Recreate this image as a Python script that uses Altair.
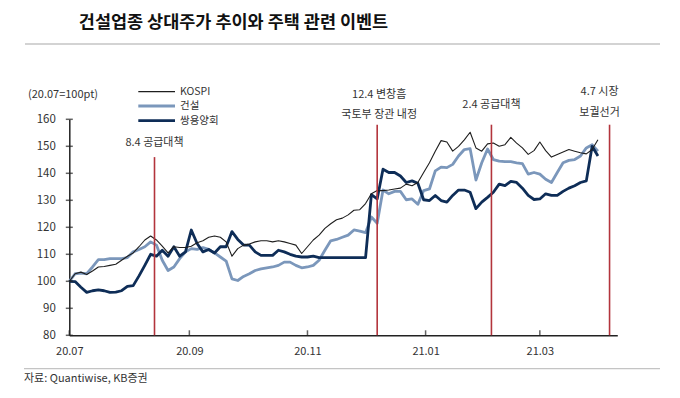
import altair as alt
import pandas as pd

# ---------------- data ----------------
dates = pd.date_range("2020-07-01", periods=92, freq="3D")
series_names = ["KOSPI", "건설", "쌍용양회"]

kospi = [100, 102.8, 103.4, 102.5, 103.8, 105.3, 105.5, 105.9, 106.3, 107.8,
         109.3, 110.5, 112.8, 115.3, 116.8, 115.3, 113, 110.5, 112.8, 112.5,
         112.5, 113, 114.3, 115, 116.3, 116.8, 116.3, 114.6, 109.3, 112.1,
         113.4, 113.8, 114.6, 115, 115, 114.6, 115, 114.6, 114, 113.4,
         110.3, 112.8, 115.3, 117.1, 119.6, 121.3, 122.8, 123.4, 124.6, 126.3,
         126.5, 128.8, 132.4, 133.6, 133.6, 133.8, 134.2, 134.5, 136, 135.4,
         136.6, 140.3, 143.9, 148.2, 152.1, 151.6, 148.2, 150, 152.4, 155.2,
         149.4, 148.2, 150.9, 151.2, 150, 150.6, 153.3, 151.2, 149.4, 147,
         148.4, 151.6, 148.4, 146, 147, 147.9, 148.8, 148.2, 147.6, 147.2,
         148.8, 152.4]

construction = [100, 102.8, 103, 102.8, 105.3, 108, 108, 108.4, 108.4, 108.4,
                108.8, 110.9, 111.8, 112.8, 114.6, 113.4, 107.8, 104, 105.3, 108.4,
                110.9, 112.1, 111.8, 112.5, 111.8, 110.5, 109, 107.5, 100.9, 100.3,
                101.8, 102.8, 104, 104.6, 105, 105.3, 105.9, 107.1, 107.1, 105.9,
                105, 105.3, 105.9, 107.8, 111.5, 115, 115.5, 116.3, 117.1, 119,
                118.6, 118, 123.8, 121.5, 133.8, 132.4, 133.3, 133.3, 130.2, 130.5,
                128.5, 133.6, 134.2, 140.9, 142.3, 142.1, 143.3, 146.4, 148.8, 149.1,
                137.5, 143.9, 149, 145.1, 144.5, 144.3, 144.3, 143.9, 143.6, 139.7,
                140.3, 139.7, 137.8, 136.6, 140.3, 143.9, 144.8, 145.1, 146.4, 149.4,
                150.6, 148.2]

ssangyong = [100, 99.9, 97.8, 95.9, 96.5, 96.8, 96.5, 95.9, 96, 96.5,
             98.1, 98.4, 102, 105.9, 110, 109.3, 111.5, 109.3, 112.8, 109.3,
             110.9, 119, 114, 110.9, 111.8, 110.5, 112.8, 112.8, 118.4, 115.5,
             113.4, 113.4, 110.9, 109.6, 109.6, 109.6, 111.5, 110.9, 110, 109.3,
             109, 109, 109.3, 108.8, 108.8, 108.8, 108.8, 108.8, 108.8, 108.8,
             108.8, 108.8, 132.1, 130.5, 141.5, 140.3, 140.3, 139, 136.6, 137.2,
             136.3, 130.2, 129.9, 131.8, 129.9, 129.3, 131.8, 133.8, 133.8, 133,
             126.9, 129.3, 131.1, 133, 136, 135.4, 137, 136.6, 134.5, 131.8,
             130.3, 130.5, 132.4, 131.8, 131.8, 133.3, 134.5, 135.4, 136.6, 137.2,
             150, 146.4]

y_ticks = [80, 90, 100, 110, 120, 130, 140, 150, 160]
x_tick_dates = ["2020-07-01", "2020-09-01", "2020-11-01", "2021-01-01", "2021-03-01"]

event_dates = ["2020-08-14", "2020-12-07", "2021-02-04", "2021-04-06"]
event_tops = [146, 158, 158, 158]
event_labels = [["8.4 공급대책"], ["12.4 변창흠", "국토부 장관 내정"],
                ["2.4 공급대책"], ["4.7 시장", "보궐선거"]]

title_text = "건설업종 상대주가 추이와 주택 관련 이벤트"
unit_text = "(20.07=100pt)"
source_text = "자료: Quantiwise, KB증권"

# ---------------- styles ----------------
FONT = "Noto Sans CJK KR"
W, H = 548, 216
colors = {"KOSPI": "#1e1e1e", "건설": "#7b97bb", "쌍용양회": "#0e2d57"}
widths = {"KOSPI": 1.1, "건설": 2.8, "쌍용양회": 2.8}
TEXT = "#333333"
RED = "#b3343c"

df = pd.DataFrame({
    "date": list(dates) * 3,
    "series": [s for s in series_names for _ in range(len(dates))],
    "value": kospi + construction + ssangyong,
})
ev = pd.DataFrame({"date": pd.to_datetime(event_dates), "value": event_tops})
yt = pd.DataFrame({"value": y_ticks})
xt = pd.DataFrame({"date": pd.to_datetime(x_tick_dates)})
dummy = pd.DataFrame({"k": [0]})

x_scale = alt.Scale(domain=[alt.DateTime(year=2020, month=7, date=1),
                            alt.DateTime(year=2021, month=4, date=10)])
x_axis = alt.Axis(values=[alt.DateTime(year=int(d[:4]), month=int(d[5:7]), date=1) for d in x_tick_dates],
                  format="%y.%m", ticks=False, grid=False, title=None,
                  labelFlush=False, labelPadding=10, labelFontSize=11,
                  labelColor=TEXT, domainColor="#222222", domainWidth=1.5)
y_axis = alt.Axis(values=y_ticks, ticks=False, grid=False, title=None,
                  labelPadding=14, labelFontSize=11.5, labelColor=TEXT,
                  domainColor="#222222", domainWidth=1.5)
x_enc = alt.X("date:T", scale=x_scale, axis=x_axis)
y_enc = alt.Y("value:Q", scale=alt.Scale(domain=[80, 160]), axis=y_axis)

layers = []
for s in ["건설", "쌍용양회", "KOSPI"]:
    layers.append(
        alt.Chart(df).transform_filter(alt.datum.series == s)
        .mark_line(color=colors[s], strokeWidth=widths[s], strokeJoin="round")
        .encode(x=x_enc, y=y_enc)
    )

# event lines
layers.append(alt.Chart(ev).mark_rule(color=RED, strokeWidth=1.6)
              .encode(x=x_enc, y=y_enc, y2=alt.datum(80)))

# axis tick marks (y crossing, x inward)
layers.append(alt.Chart(yt).mark_tick(orient="horizontal", size=7, thickness=1.5, color="#222222")
              .encode(y=y_enc, x=alt.value(0)))
layers.append(alt.Chart(xt).mark_tick(orient="vertical", size=5, thickness=1.5, color="#222222")
              .encode(x=x_enc, y=alt.value(H - 2.5)))

# event annotations
note_y = [[23.4], [-24.3, -4.3], [-14.3], [-27.6, -6.6]]
note_dx = [0, 2, 0, -10]
for d, labels, ys, dx in zip(event_dates, event_labels, note_y, note_dx):
    for lab, yy in zip(labels, ys):
        nd = pd.DataFrame({"date": pd.to_datetime([d]), "label": [lab]})
        layers.append(alt.Chart(nd).mark_text(font=FONT, fontSize=11, color=TEXT,
                                              align="center", baseline="middle", dx=dx)
                      .encode(x=x_enc, y=alt.value(yy), text="label:N"))

# legend (manual)
leg_y = [-27.6, -13.3, 1.4]
for s, yy in zip(series_names, leg_y):
    layers.append(alt.Chart(dummy).mark_rule(color=colors[s], strokeWidth=widths[s] if s != "KOSPI" else 1.3)
                  .encode(x=alt.value(69), x2=alt.value(105.7), y=alt.value(yy)))
    layers.append(alt.Chart(dummy).mark_text(text=s, font=FONT, fontSize=10.5, color=TEXT,
                                             align="left", baseline="middle")
                  .encode(x=alt.value(110.7), y=alt.value(yy)))

# unit label
layers.append(alt.Chart(dummy).mark_text(text=unit_text, font=FONT, fontSize=11, color=TEXT,
                                         align="left", baseline="middle")
              .encode(x=alt.value(-41.3), y=alt.value(-24.6)))

# title + rules + source
layers.append(alt.Chart(dummy).mark_text(text=title_text, font=FONT, fontSize=17.5, fontWeight="bold",
                                         color="#111111", align="left", baseline="middle")
              .encode(x=alt.value(9.5), y=alt.value(-96.3)))
layers.append(alt.Chart(dummy).mark_rule(color="#c4c4c4", strokeWidth=1.5)
              .encode(x=alt.value(-44.3), x2=alt.value(590.7), y=alt.value(-75.3)))
layers.append(alt.Chart(dummy).mark_rule(color="#c4c4c4", strokeWidth=1.2)
              .encode(x=alt.value(-45.3), x2=alt.value(590.7), y=alt.value(249.4)))
layers.append(alt.Chart(dummy).mark_text(text=source_text, font=FONT, fontSize=11, color=TEXT,
                                         align="left", baseline="middle")
              .encode(x=alt.value(-45.3), y=alt.value(259.4)))

chart = alt.layer(*layers).properties(
    width=W, height=H,
    padding={"left": 61.3, "top": 111.3, "right": 50, "bottom": 54},
    autosize=alt.AutoSizeParams(type="none"),
    background="white",
).configure_view(stroke=None).configure_axis(labelFont=FONT)

chart.save("out.html", embed_options={"renderer": "svg", "actions": False})
